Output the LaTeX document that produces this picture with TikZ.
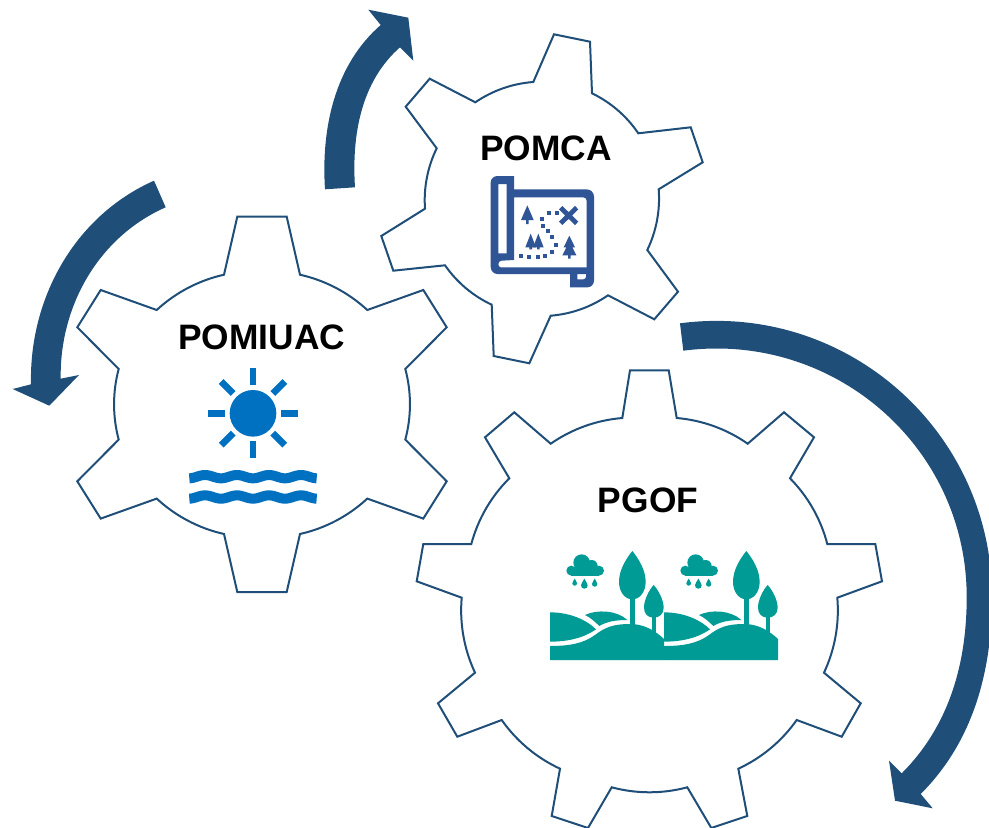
\documentclass[tikz,border=0pt]{standalone}
\usepackage{fontspec}
\setmainfont{Liberation Sans}
\usetikzlibrary{arrows}
\definecolor{gearblue}{HTML}{1F4E79}
\definecolor{mapblue}{HTML}{2F5597}
\definecolor{sunblue}{HTML}{0070C0}
\definecolor{hillgreen}{HTML}{009B95}
\begin{document}
\begin{tikzpicture}[x=0.75pt,y=-0.75pt,
  gear line/.style={draw=gearblue,line width=1.5pt,line join=miter,fill=white},
  gear arc/.style={bend left=15,looseness=.87},
  turn arrow/.style={fill=gearblue},
  gear label/.style={anchor=base,inner sep=0pt,font=\bfseries\fontsize{26.5}{30}\selectfont},
  sun ray/.style={draw=sunblue,line width=5pt},
  wave/.style={draw=sunblue,line width=7.5pt}]

  \path[use as bounding box,clip] (0,0) rectangle (989,828);

  % gears
  \draw[gear line] (237.3,216.7) -- (286.7,216.7) -- (300,274.7) to[gear arc] (367.3,310)
    -- (423.3,290) -- (446.7,327.3) -- (405.3,369) to[gear arc] (405.3,439.6)
    -- (446.7,481.3) -- (423.3,518.6) -- (367.3,498.6) to[gear arc] (300,534)
    -- (286.7,592) -- (237.3,592) -- (224,534) to[gear arc] (156.7,498.6)
    -- (100.7,518.6) -- (77.3,481.3) -- (118.7,439.6) to[gear arc] (118.7,369)
    -- (77.3,327.3) -- (100.7,290) -- (156.7,310) to[gear arc] (224,274.7) -- cycle;
  \draw[gear line] (554,34.3) -- (590,41.7) -- (592,93.3) to[gear arc] (638.3,133.3)
    -- (690.7,127.3) -- (702.7,162.3) -- (658.7,189.3) to[gear arc] (647.3,250)
    -- (678,291.7) -- (654.3,319.3) -- (608,295.3) to[gear arc] (550.7,315.7)
    -- (529.3,363.3) -- (493.7,356) -- (491.7,304.7) to[gear arc] (445,265.3)
    -- (393.3,270.7) -- (381.3,236) -- (425,208.7) to[gear arc] (436.7,148.3)
    -- (405.7,106.7) -- (429.7,78.7) -- (475.3,102.3) to[gear arc] (533.3,82) -- cycle;
  \draw[gear line] (630,370.3) -- (668.7,370.3) -- (676.7,418) to[gear arc] (747.7,443.7)
    -- (784,412.3) -- (814,437.3) -- (790,478.3) to[gear arc] (827.3,544)
    -- (875.3,544) -- (882,581.3) -- (837.3,597.7) to[gear arc] (824,672.7)
    -- (860.7,703.3) -- (841.7,736.7) -- (796.7,720) to[gear arc] (738.3,768.7)
    -- (747.3,816) -- (711.3,828) -- (687.3,787.3) to[gear arc] (611.7,787.3)
    -- (588,828) -- (551.7,816) -- (560,768.7) to[gear arc] (501.7,720)
    -- (457.3,736.7) -- (438,703.3) -- (475,672.7) to[gear arc] (461.7,597.7)
    -- (416.7,581.3) -- (423.3,544) -- (471.3,544) to[gear arc] (509.3,478.3)
    -- (485,437.3) -- (514.3,412.3) -- (550.7,443.7) to[gear arc] (622.3,418) -- cycle;

  % arrows between the gears
  \fill[turn arrow] (154,180.7) .. controls (75,215.7) and (29,298) .. (31,384.3)
    -- (12.7,389) -- (49.3,405.7) -- (79,375) -- (60.7,378.7)
    .. controls (59.5,305.7) and (98.9,236.7) .. (165.7,207.3) -- cycle;
  \fill[turn arrow] (325,189.3) .. controls (321,128.3) and (334.7,65) .. (380.7,25)
    -- (368.3,9.7) -- (408.3,17.7) -- (413.3,60.7) -- (400,47.3)
    .. controls (361,81.6) and (351.6,135.3) .. (355,187.3) -- cycle;
  \fill[turn arrow] (680,323.3) .. controls (845.3,301.5) and (992,430.2) .. (992,597)
    .. controls (992,671.3) and (973.2,741.5) .. (920.7,794)
    -- (932.7,808.3) -- (895,800.7) -- (889,760.7) -- (901.7,773.3)
    .. controls (949,726) and (966.7,664) .. (966.7,597)
    .. controls (966.7,446) and (833,331) .. (683.3,350.7) -- cycle;

  \node[gear label] (pomiuac) at (261.7,349) {POMIUAC};
  \node[gear label] (pomca) at (546,160) {POMCA};
  \node[gear label] (pgof) at (648,512.7) {PGOF};

  % map icon
  \begin{scope}[shift={(470,160)},scale=1/3]
    \fill[mapblue,even odd rule] (132,48) -- (82,48) to[out=180,in=90] (62,68) -- (62,320)
      to[out=-90,in=180] (82,342) -- (300,342) -- (300,382) -- (352,382) to[out=0,in=-90] (372,362)
      -- (372,110) to[out=90,in=0] (350,88) -- (132,88) -- cycle
      (85,72) -- (110,72) -- (110,280) -- (85,280) -- cycle
      (132,112) -- (340,112) to[out=0,in=90] (350,122) -- (350,322) -- (92,322)
      to[out=180,in=-90] (85,312) to[out=90,in=180] (95,302) -- (132,300) -- cycle
      (322,342) -- (348,342) -- (348,350) to[out=-90,in=0] (340,358) -- (322,358) -- cycle;
    \draw[mapblue,line width=3.6pt] (272,143) -- (320,190) (320,143) -- (272,190);
    \fill[mapblue] (172,136) -- (191,180) -- (176,180) -- (176,192) -- (168,192) -- (168,180) -- (153,180) -- cycle;
    \foreach \x in {182,205}
      \fill[mapblue] (\x,221) -- ({\x+16},262) -- ({\x+4},262) -- ({\x+4},268) -- ({\x-4},268) -- ({\x-4},262) -- ({\x-16},262) -- cycle;
    \fill[mapblue] (298,227) -- (315,262) -- (307,262) -- (319,286) -- (302,286) -- (302,296) -- (294,296)
      -- (294,286) -- (277,286) -- (289,262) -- (281,262) -- cycle;
    \foreach \x/\y in {262/158,237/160,217/176,218/197,234/213,247/230,258/254,245/277,225/288,203/292,178/292,153/288}
      \fill[mapblue] ({\x-6},{\y-6}) rectangle ++(12,12);
  \end{scope}

  % sun and water
  \begin{scope}[shift={(170,360)},scale=1/3]
    \fill[sunblue] (249,160) circle (70);
    \begin{scope}[shift={(249,160)}]
      \foreach \a in {0,45,...,315}
        \draw[sun ray] (\a:84) -- (\a:135);
    \end{scope}
    \foreach \c in {350,411}
      \draw[wave] plot[domain=58:440,samples=70,smooth] (\x,{\c-5*sin((\x-81)/96*360)});
  \end{scope}

  % hills, trees and rain, twice
  \begin{scope}[shift={(540,540)},scale=1/3]
    \foreach \dx in {0,342} {
      \begin{scope}[shift={(\dx,0)}]
        \foreach \x/\y/\r in {125/68/25,94/92/15,155/78/18,177/92/15}
          \fill[hillgreen] (\x,\y) circle (\r);
        \fill[hillgreen] (94,80) rectangle (177,107);
        \foreach \x/\t/\r in {104/116/7,133/116/10,164/116/8}
          \fill[hillgreen] (\x,\t) .. controls ({\x+.3*\r},{\t+.9*\r}) and ({\x+\r},{\t+1.2*\r}) .. ({\x+\r},{\t+2*\r})
            .. controls ({\x+\r},{\t+2.6*\r}) and ({\x+.6*\r},{\t+3*\r}) .. (\x,{\t+3*\r})
            .. controls ({\x-.6*\r},{\t+3*\r}) and ({\x-\r},{\t+2.6*\r}) .. ({\x-\r},{\t+2*\r})
            .. controls ({\x-\r},{\t+1.2*\r}) and ({\x-.3*\r},{\t+.9*\r}) .. cycle;
        \fill[hillgreen] (277,33) .. controls (295,55) and (317,90) .. (317,125)
          .. controls (317,155) and (300,178) .. (277,178)
          .. controls (254,178) and (237,155) .. (237,125)
          .. controls (237,90) and (259,55) .. cycle;
        \fill[hillgreen] (270,170) rectangle (285,258);
        \fill[hillgreen] (341,135) .. controls (355,150) and (371,180) .. (371,203)
          .. controls (371,222) and (358,233) .. (341,233)
          .. controls (324,233) and (312,222) .. (312,203)
          .. controls (312,180) and (327,150) .. cycle;
        \fill[hillgreen] (335,225) rectangle (348,285);
        \fill[hillgreen] (30,217) .. controls (90,217) and (140,240) .. (168,268)
          .. controls (130,295) and (80,305) .. (30,305) -- cycle;
        \fill[hillgreen] (135,225) .. controls (170,208) and (230,210) .. (262,240)
          .. controls (225,240) and (200,245) .. (178,258)
          .. controls (165,245) and (150,232) .. (135,225) -- cycle;
        \fill[hillgreen] (30,318) .. controls (90,318) and (130,310) .. (165,285)
          .. controls (195,262) and (220,252) .. (270,252)
          .. controls (300,252) and (335,262) .. (372,297) -- (372,360) -- (30,360) -- cycle;
      \end{scope}
    }
  \end{scope}

\end{tikzpicture}
\end{document}
